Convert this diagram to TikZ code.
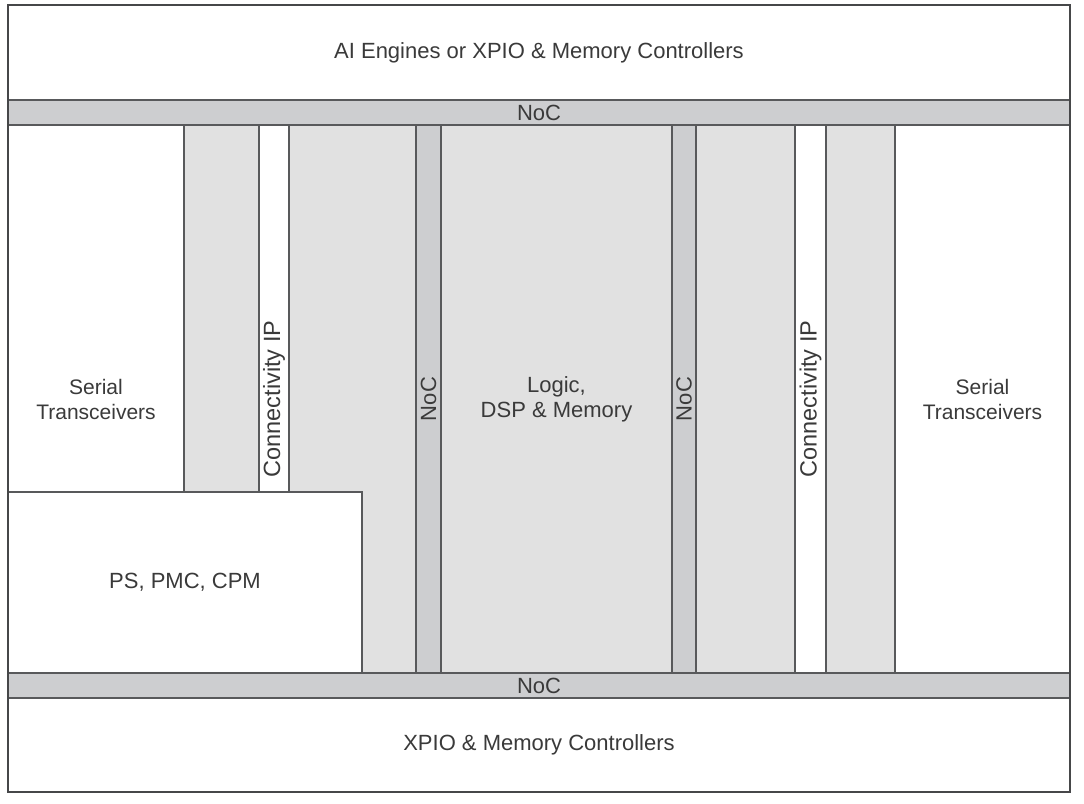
\documentclass[tikz,border=0pt]{standalone}
\usepackage{fontspec}
\setmainfont{Liberation Sans}
\definecolor{nocgray}{HTML}{CDCED0}
\definecolor{fabricgray}{HTML}{E1E1E1}
\definecolor{edgegray}{HTML}{58595B}
\definecolor{textgray}{HTML}{3A3A3A}

\begin{document}
\begin{tikzpicture}[x=1pt,y=-1pt,
  block/.style={draw=edgegray,line width=1.2pt,inner sep=0pt,outer sep=0pt,anchor=north west,
    font=\fontsize{22}{25}\selectfont,text=textgray,align=center},
  plain/.style={block,fill=white},
  fabric/.style={block,fill=fabricgray},
  noc/.style={block,fill=nocgray},
  serial/.style={plain,font=\fontsize{21}{25}\selectfont},
  tag/.style={inner sep=0pt,font=\fontsize{22}{25}\selectfont,text=textgray,align=center}]

  \path[use as bounding box] (0,0) rectangle (1084,803);

  % programmable logic region
  \node[fabric, minimum width=711pt, minimum height=548pt] (fabric) at (184,125) {};
  \node[tag] (logic) at (556.5,399) {Logic,\\DSP \& Memory};

  % side columns
  \node[serial, minimum width=176pt, minimum height=548pt] (serialL) at (8,125) {Serial\\Transceivers};
  \node[serial, minimum width=175pt, minimum height=548pt] (serialR) at (895,125) {Serial\\Transceivers};

  % vertical strips
  \node[plain, minimum width=30pt, minimum height=548pt] (cipL) at (259,125) {};
  \node[plain, minimum width=31pt, minimum height=548pt] (cipR) at (795,125) {};
  \node[noc, minimum width=25pt, minimum height=548pt] (nocL) at (416,125) {};
  \node[noc, minimum width=24pt, minimum height=548pt] (nocR) at (672,125) {};
  \node[tag, rotate=90, font=\fontsize{23.5}{25}\selectfont] (cipLtext) at (cipL.center) {Connectivity IP};
  \node[tag, rotate=90, font=\fontsize{23.5}{25}\selectfont] (cipRtext) at (cipR.center) {Connectivity IP};
  \node[tag, rotate=90] (nocLtext) at (nocL.center) {NoC};
  \node[tag, rotate=90] (nocRtext) at (nocR.center) {NoC};

  % processing system
  \node[plain, minimum width=354pt, minimum height=181pt] (ps) at (8,492) {PS, PMC, CPM};

  % horizontal bands
  \node[plain, minimum width=1062pt, minimum height=95pt] (top) at (8,5) {AI Engines or XPIO \& Memory Controllers};
  \node[noc, minimum width=1062pt, minimum height=25pt] (nocTop) at (8,100) {NoC};
  \node[noc, minimum width=1062pt, minimum height=25pt] (nocBot) at (8,673) {NoC};
  \node[plain, minimum width=1062pt, minimum height=94pt] (bottom) at (8,698) {XPIO \& Memory Controllers};

  % outer frame
  \draw[draw=edgegray!80!black, line width=2.2pt] (top.north west) rectangle (bottom.south east);

\end{tikzpicture}
\end{document}
